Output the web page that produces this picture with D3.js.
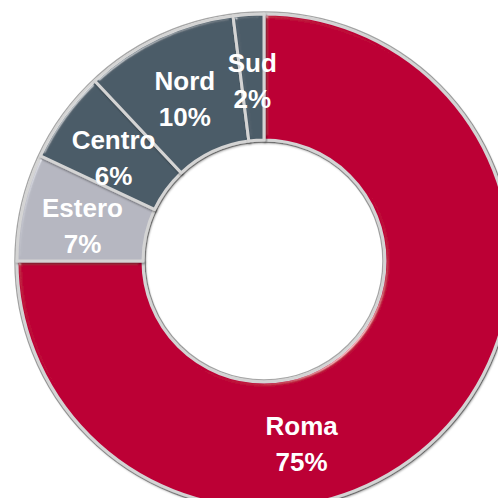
<!DOCTYPE html>
<html>
<head>
<meta charset="utf-8">
<script src="https://cdn.jsdelivr.net/npm/d3@7"></script>
<style>
html,body{margin:0;padding:0;background:#fff;overflow:hidden;}
svg{display:block;}
</style>
</head>
<body>
<svg id="chart" width="498" height="498"></svg>
<script>
const categories = ["Roma", "Estero", "Centro", "Nord", "Sud"];
const values = [75, 7, 6, 10, 2];
const labels = ["75%", "7%", "6%", "10%", "2%"];
const colors = ["#BC0036", "#B6B7C1", "#4B5B67", "#4B5B67", "#4B5B67"];

const W = 498, H = 498;
const cx = 264, cy = 261;
const outerR = 247, innerR = 121;
const romaLabelAngle = 168 * Math.PI / 180;

const svg = d3.select("#chart");
const defs = svg.append("defs");

const f = defs.append("filter").attr("id", "bevel")
  .attr("x", "-10%").attr("y", "-10%").attr("width", "120%").attr("height", "120%");
f.append("feGaussianBlur").attr("in", "SourceAlpha").attr("stdDeviation", 2.5).attr("result", "blur");
f.append("feSpecularLighting").attr("in", "blur").attr("surfaceScale", 4)
  .attr("specularConstant", 0.45).attr("specularExponent", 60)
  .attr("lighting-color", "#ffffff").attr("result", "spec")
  .append("feDistantLight").attr("azimuth", 225).attr("elevation", 40);
f.append("feComposite").attr("in", "spec").attr("in2", "SourceAlpha").attr("operator", "in").attr("result", "specIn");
f.append("feComposite").attr("in", "SourceGraphic").attr("in2", "specIn")
  .attr("operator", "arithmetic").attr("k1", 0).attr("k2", 1).attr("k3", 1).attr("k4", 0).attr("result", "lit");
f.append("feDropShadow").attr("in", "lit").attr("dx", 1).attr("dy", 1.5).attr("stdDeviation", 1.2)
  .attr("flood-color", "#000").attr("flood-opacity", 0.45);

const data = categories.map((c, i) => ({name: c, value: values[i], label: labels[i], color: colors[i]}));

const pie = d3.pie().sort(null).value(d => d.value).startAngle(0).endAngle(2 * Math.PI);
const arcs = pie(data);

const arc = d3.arc().innerRadius(innerR).outerRadius(outerR);

const g = svg.append("g").attr("transform", `translate(${cx},${cy})`);

g.append("circle").attr("r", outerR + 2).attr("fill", "none").attr("stroke", "#a8a8a8").attr("stroke-width", 1.5);
g.append("circle").attr("r", innerR - 2).attr("fill", "none").attr("stroke", "#a8a8a8").attr("stroke-width", 1.5);

g.selectAll("path.slice")
  .data(arcs)
  .join("path")
  .attr("class", "slice")
  .attr("d", arc)
  .attr("fill", d => d.data.color)
  .attr("stroke", "#d4d4d4")
  .attr("stroke-width", 3)
  .attr("stroke-linejoin", "round")
  .attr("filter", "url(#bevel)");

const labelR = (innerR + outerR) / 2 + 2;
const lbl = g.selectAll("text.lbl")
  .data(arcs)
  .join("text")
  .attr("class", "lbl")
  .attr("transform", d => {
    const a = d.data.name === "Roma" ? romaLabelAngle : (d.startAngle + d.endAngle) / 2;
    const r = d.data.name === "Roma" ? labelR - 5 : labelR;
    return `translate(${r * Math.sin(a)},${-r * Math.cos(a)})`;
  })
  .attr("text-anchor", "middle")
  .attr("fill", "#ffffff")
  .style("font-family", "'Liberation Sans', Arial, sans-serif")
  .style("font-weight", "bold")
  .style("font-size", "26px");

lbl.append("tspan").attr("x", 0).attr("y", -3).text(d => d.data.name);
lbl.append("tspan").attr("x", 0).attr("y", 33).text(d => d.data.label);
</script>
</body>
</html>
